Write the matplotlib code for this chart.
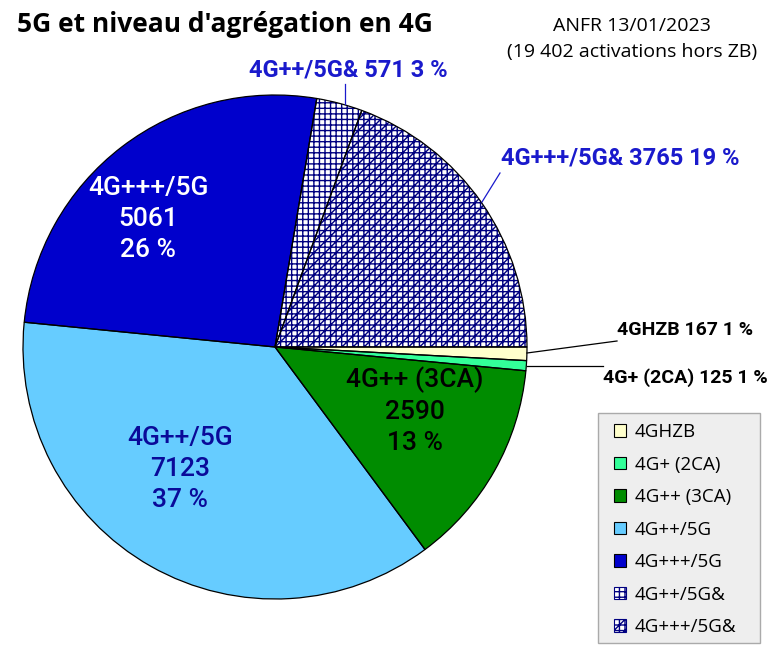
import matplotlib
matplotlib.use("Agg")
import matplotlib.pyplot as plt
from matplotlib.patches import Patch, Rectangle
import numpy as np

categories = ["4GHZB", "4G+ (2CA)", "4G++ (3CA)", "4G++/5G", "4G+++/5G", "4G++/5G&", "4G+++/5G&"]
values = [167, 125, 2590, 7123, 5061, 571, 3765]
percents = ["1 %", "1 %", "13 %", "37 %", "26 %", "3 %", "19 %"]
colors = ["#FFFFCC", "#33FF99", "#008C00", "#66CCFF", "#0000CC", "#FFFFFF", "#FFFFFF"]
hatches = [None, None, None, None, None, "+++", "+++///"]
title = "5G et niveau d'agrégation en 4G"
subtitle = "ANFR 13/01/2023\n(19 402 activations hors ZB)"

W, H = 769, 650
fig = plt.figure(figsize=(W / 100, H / 100), dpi=100)
ax = fig.add_axes([0, 0, 1, 1])

cx, cy, R = 275, 347, 252
HATCH = "#000080"
plt.rcParams["hatch.linewidth"] = 1.0

# y-axis is inverted afterwards, so counterclock=True appears clockwise
wedges, _ = ax.pie(values, colors=colors, center=(cx, cy), radius=R,
                   startangle=0, counterclock=True, frame=True,
                   wedgeprops=dict(linewidth=0))
for w, h in zip(wedges, hatches):
    if h:
        w.set_hatch(h)
        w.set_edgecolor(HATCH)
        w.set_linewidth(0)
ax.pie(values, colors=["none"] * len(values), center=(cx, cy), radius=R,
       startangle=0, counterclock=True, frame=True,
       wedgeprops=dict(linewidth=0.9, edgecolor="black", facecolor="none"))
ax.set_xlim(0, W)
ax.set_ylim(H, 0)
ax.set_aspect("equal")
ax.axis("off")

lab_font = "Roboto"
inner = {2: ((415, 411), "black"), 3: ((180, 469), "#0A0A99"), 4: ((148, 219), "white")}
for i, ((x, y), c) in inner.items():
    ax.text(x, y, f"{categories[i]}\n{values[i]}\n{percents[i]}", ha="center", va="center",
            fontsize=19, color=c, family=lab_font, fontweight="medium", linespacing=1.36)

ax.text(348, 70, f"{categories[5]} {values[5]} {percents[5]}", ha="center", va="center",
        fontsize=17, color="#1A1ACC", family=lab_font, fontweight="bold")
ax.plot([345, 345], [84, 104], color="#1A1ACC", lw=0.9)
ax.text(620, 158, f"{categories[6]} {values[6]} {percents[6]}", ha="center", va="center",
        fontsize=17, color="#1A1ACC", family=lab_font, fontweight="bold")
ax.plot([500, 482], [173, 202], color="#1A1ACC", lw=0.9)
ax.text(617, 330, f"{categories[0]} {values[0]} {percents[0]}", ha="left", va="center",
        fontsize=14, color="black", family=lab_font, fontweight="bold")
ax.plot([527, 617], [353, 341], color="black", lw=0.9)
ax.text(603, 378, f"{categories[1]} {values[1]} {percents[1]}", ha="left", va="center",
        fontsize=14, color="black", family=lab_font, fontweight="bold")
ax.plot([527, 603], [366, 366], color="black", lw=0.9)

ax.text(17, 25, title, ha="left", va="center", fontsize=19, fontweight="bold",
        family="Open Sans", color="black")
ax.text(632, 39, subtitle, ha="center", va="center", fontsize=14, family="Open Sans",
        color="black", linespacing=1.6)

# legend frame
ax.add_patch(Rectangle((598, 413), 162, 230, facecolor="#EEEEEE", edgecolor="#AAAAAA",
                       linewidth=1.0, zorder=1))
handles = []
for c, h in zip(colors, hatches):
    if h:
        handles.append(Patch(facecolor=c, edgecolor=HATCH, hatch=h, linewidth=0.8))
    else:
        handles.append(Patch(facecolor=c, edgecolor="black", linewidth=0.8))
leg = fig.legend(handles, categories, loc="upper left",
                 bbox_to_anchor=(614 / W, 1 - 423 / H),
                 prop=dict(family="Open Sans", size=13.5), frameon=False,
                 handlelength=0.65, handleheight=0.65, handletextpad=0.45,
                 labelspacing=0.775, borderpad=0, borderaxespad=0)

fig.savefig("out.png", dpi=100)
